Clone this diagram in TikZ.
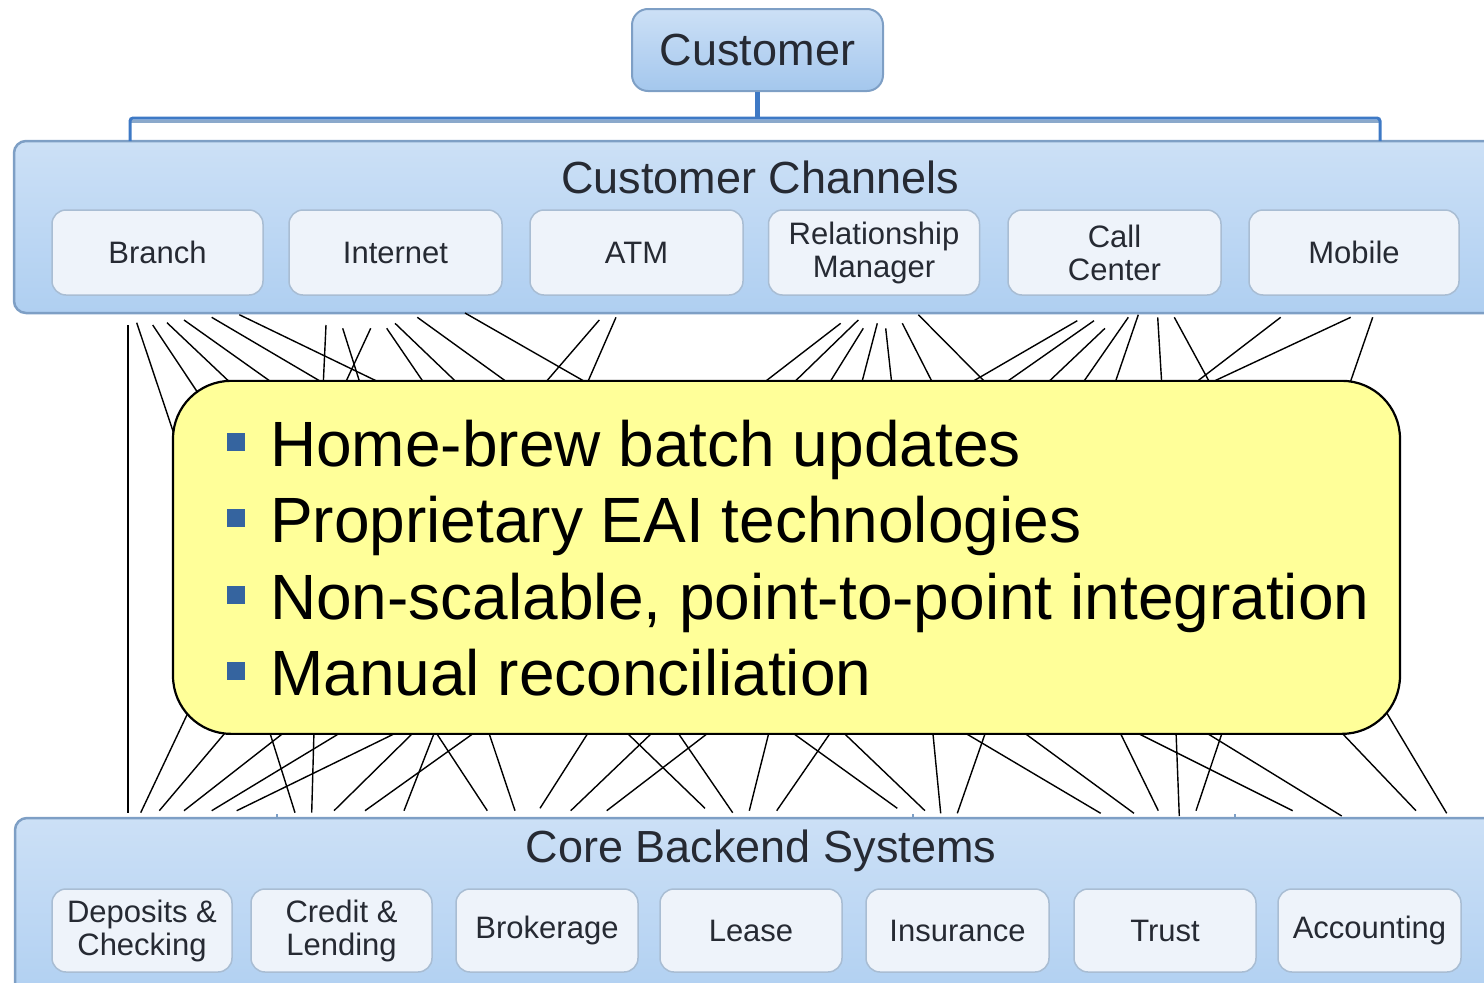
\documentclass[tikz,border=0pt]{standalone}
\usepackage{fontspec}
\setmainfont{Liberation Sans}
\definecolor{bandtop}{HTML}{CCE0F6}
\definecolor{bandmid}{HTML}{A4C7ED}
\definecolor{bandbot}{HTML}{AFCFF1}
\definecolor{bandedge}{HTML}{7E9FC5}
\definecolor{innerfill}{HTML}{EEF3FA}
\definecolor{inneredge}{HTML}{A9BDD3}
\definecolor{labeltext}{HTML}{262A33}
\definecolor{bracketc}{HTML}{3E79C5}
\definecolor{bracketlight}{HTML}{8BA9CB}
\definecolor{yel}{HTML}{FFFF99}
\definecolor{bulletc}{HTML}{35649F}
\begin{document}
\begin{tikzpicture}[x=1pt,y=-1pt,
  band/.style={draw=bandedge, line width=2.5pt, rounded corners=12pt,
    top color=bandtop, middle color=bandmid, bottom color=bandbot, inner sep=0pt},
  custbox/.style={draw=bandedge, line width=2pt, rounded corners=16pt,
    top color=bandtop, bottom color=bandmid, inner sep=0pt,
    minimum width=251pt, minimum height=82pt,
    font=\fontsize{45}{54}\selectfont, text=labeltext},
  innerbox/.style={draw=inneredge, line width=1.5pt, rounded corners=14pt,
    fill=innerfill, inner sep=0pt, align=center, text=labeltext,
    font=\fontsize{31}{33}\selectfont},
  title/.style={font=\fontsize{45}{54}\selectfont, text=labeltext, anchor=base, inner sep=0pt},
  wire/.style={black, line width=1.4pt},
  bullettext/.style={font=\fontsize{64}{77}\selectfont, anchor=base west, inner sep=0pt},
  bulletsq/.style={fill=bulletc, minimum size=18pt, inner sep=0pt},
  yelbox/.style={draw=black, line width=2.2pt, fill=yel, rounded corners=58pt,
    minimum width=1227pt, minimum height=353pt, inner sep=0pt}
]
\useasboundingbox (0,0) rectangle (1484,983);
\clip (0,0) rectangle (1484,983);

% bands
\node[band, minimum width=1500pt, minimum height=172pt] (channels) at (764,227) {};
\node[band, minimum width=1500pt, minimum height=190pt] (backend) at (765,913) {};

% customer
\node[custbox] (customer) at (757.5,50) {Customer};

% bracket
\coordinate (bc) at (757.5,118);
\coordinate (bl) at (130,118);
\coordinate (br) at (1380,118);
\coordinate (blb) at (130,141);
\coordinate (brb) at (1380,141);
\draw[bracketlight, line width=3pt] ([yshift=-3pt]bl) -- ([yshift=-3pt]br);
\draw[bracketc, line width=4.5pt] (customer.south) -- (bc);
\draw[bracketc, line width=3pt, rounded corners=3pt] (blb) -- (bl) -- (br) -- (brb);

% titles
\node[title] (cctitle) at (760,193) {Customer Channels};
\node[title] (cbtitle) at (761,862) {Core Backend Systems};

% channel boxes
\node[innerbox, minimum width=211pt, minimum height=85pt] (branch) at (157.5,252.5) {Branch};
\node[innerbox, minimum width=213pt, minimum height=85pt] (internet) at (395.5,252.5) {Internet};
\node[innerbox, minimum width=213pt, minimum height=85pt] (atm) at (636.5,252.5) {ATM};
\node[innerbox, minimum width=211pt, minimum height=85pt] (rm) at (874,252.5) {Relationship\\Manager};
\node[innerbox, minimum width=213pt, minimum height=85pt] (call) at (1114.5,252.5) {Call\\Center};
\node[innerbox, minimum width=210pt, minimum height=85pt] (mobile) at (1354,252.5) {Mobile};

% backend boxes
\node[innerbox, minimum width=180pt, minimum height=83pt] (deposits) at (142,930.5) {Deposits \&\\Checking};
\node[innerbox, minimum width=181pt, minimum height=83pt] (credit) at (341.5,930.5) {Credit \&\\Lending};
\node[innerbox, minimum width=182pt, minimum height=83pt] (brokerage) at (547,930.5) {Brokerage};
\node[innerbox, minimum width=182pt, minimum height=83pt] (lease) at (751,930.5) {Lease};
\node[innerbox, minimum width=183pt, minimum height=83pt] (insurance) at (957.5,930.5) {Insurance};
\node[innerbox, minimum width=182pt, minimum height=83pt] (trust) at (1165,930.5) {Trust};
\node[innerbox, minimum width=183pt, minimum height=83pt] (accounting) at (1369.5,930.5) {Accounting};

% small ticks on backend top edge
\foreach \t in {277,913,1235} \draw[bandedge, line width=2pt] (\t,818) -- (\t,814);

% wires top
\foreach \a/\b/\c/\d in {
128/325/128/813,
136.7/322.7/176/440,
152.7/325/200/396,
167/322.7/230.7/383,
184/320/272.7/383,
211.7/317.3/323.3/383,
239.3/314.7/380.7/383,
326/325/323.3/383,
342.7/328.3/360/383,
370.7/328.3/345.3/383,
386.7/328.3/424/383,
395/323.3/457.3/383,
417.3/317.3/508.3/383,
465/313/587.3/383,
599.3/320/545/383,
616/317.3/587.3/383,
840.7/323.3/763.3/383,
858.3/320/793.3/383,
863.3/328.3/829.3/383,
877.3/323.3/861.7/383,
885.7/328.3/891.7/383,
902.3/323.3/932.7/383,
918.3/314.7/986/383,
1077.3/320.7/970/383,
1094/320.7/1005/383,
1105/328.3/1047.3/383,
1128.3/317.3/1082.7/383,
1138.3/314.7/1115/383,
1157.7/317.3/1161.7/383,
1174.3/317.3/1210/383,
1280.7/317.3/1195/383,
1350.7/317.3/1210/383,
1372.7/317.3/1350/383}
  \draw[wire] (\a,\b) -- (\c,\d);

% wires bottom
\foreach \a/\b/\c/\d in {
194/700/140.7/812.7,
226.7/731/159.3/810.7,
269.3/731/295/812.7,
286/731/184/810.7,
314/731/311.7/812.7,
343.3/731/211.7/810.7,
400/731/236.7/810.7,
415/731/334/810.7,
435/731/404/810.7,
435/731/487.3/810.7,
476.7/731/365/810.7,
488.3/731/515/810.7,
589.3/731/540/808.3,
625/731/705/808.3,
654/731/570.7/810.7,
676.7/731/732.7/812.7,
710.7/731/606.7/810.7,
769.3/731/749.3/810.7,
790/731/897.3/808.3,
831.7/731/776.7/810.7,
841.7/731/925/810.7,
932.7/731/940.7/813.3,
961.7/731/1100.7/813.3,
986/731/957.3/813.3,
1021.7/731/1134/813.3,
1119.3/731/1158.3/810.7,
1133.3/731/1292.7/810.7,
1176/731/1179.3/816,
1203.3/731/1341.7/816,
1222.7/731/1196/810.7,
1340/731/1416/810.7,
1373/690/1446.7/813.3}
  \draw[wire] (\a,\b) -- (\c,\d);

% yellow box
\node[yelbox] (issues) at (786.5,557.35) {};

% bullets
\node[bulletsq] (s1) at (236,442) {};
\node[bulletsq] (s2) at (236,518) {};
\node[bulletsq] (s3) at (236,595) {};
\node[bulletsq] (s4) at (236,671) {};
\node[bullettext] (l1) at (270,466) {Home-brew batch updates};
\node[bullettext] (l2) at (270,542) {Proprietary EAI technologies};
\node[bullettext] (l3) at (270,619) {Non-scalable, point-to-point integration};
\node[bullettext] (l4) at (270,695) {Manual reconciliation};
\end{tikzpicture}
\end{document}
